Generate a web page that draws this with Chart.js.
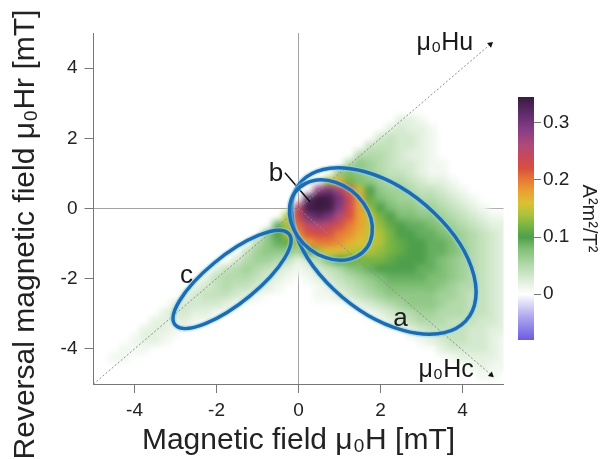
<!DOCTYPE html>
<html>
<head>
<meta charset="utf-8">
<script src="https://cdn.jsdelivr.net/npm/chart.js@4.4.0/dist/chart.umd.min.js"></script>
<style>
  html, body { margin: 0; padding: 0; background: #fff; }
  #wrap { position: relative; width: 601px; height: 459px; overflow: hidden; }
  #forc { position: absolute; left: 0; top: 0; }
  #cbar { position: absolute; left: 503px; top: 60px; }
</style>
</head>
<body>
<div id="wrap">
  <canvas id="forc" width="601" height="459"></canvas>
  <canvas id="cbar" width="98" height="320"></canvas>
</div>
<script>
// axis ticks (mT) and colour bar ticks (A^2 m^2 / T^2)
const hTicks = [-4, -2, 0, 2, 4];
const hrTicks = [-4, -2, 0, 2, 4];
const cbTicks = [0, 0.1, 0.2, 0.3];
const cbMin = -0.08, cbMax = 0.345;

// FORC grid: cell centres in mT
const cellStep = 0.25;
const hCells = [-4.5,-4.25,-4,-3.75,-3.5,-3.25,-3,-2.75,-2.5,-2.25,-2,-1.75,-1.5,-1.25,-1,-0.75,-0.5,-0.25,
                0,0.25,0.5,0.75,1,1.25,1.5,1.75,2,2.25,2.5,2.75,3,3.25,3.5,3.75,4,4.25,4.5,4.75,5];
const hrCells = [2.5,2.25,2,1.75,1.5,1.25,1,0.75,0.5,0.25,0,-0.25,-0.5,-0.75,-1,-1.25,-1.5,-1.75,-2,-2.25,
                 -2.5,-2.75,-3,-3.25,-3.5,-3.75,-4,-4.25,-4.5,-4.75];
// one row per hrCells entry, one value per hCells entry
const forc = [
  [0,0,0,0,0,0,0,0,0,0,0,0,0,0,0,0,0,0, 0,0,0,0,0,0,0,0,0,0,.02,.02,.01,0,0,0,0,0,0,0,0],
  [0,0,0,0,0,0,0,0,0,0,0,0,0,0,0,0,0,0, 0,0,0,0,0,0,0,0,0,.02,.03,.02,.02,.01,0,0,0,0,0,0,0],
  [0,0,0,0,0,0,0,0,0,0,0,0,0,0,0,0,0,0, 0,0,0,0,0,0,0,0,.03,.04,.03,.03,.02,.01,0,0,0,0,0,0,0],
  [0,0,0,0,0,0,0,0,0,0,0,0,0,0,0,0,0,0, 0,0,0,0,0,0,0,.04,.04,.04,.03,.03,.02,.01,0,0,0,0,0,0,0],
  [0,0,0,0,0,0,0,0,0,0,0,0,0,0,0,0,0,0, 0,0,0,0,0,0,.05,.05,.05,.04,.03,.02,.02,.01,0,0,0,0,0,0,0],
  [0,0,0,0,0,0,0,0,0,0,0,0,0,0,0,0,0,0, 0,0,0,0,0,.05,.07,.06,.05,.04,.03,.03,.02,.01,.01,0,0,0,0,0,0],
  [0,0,0,0,0,0,0,0,0,0,0,0,0,0,0,0,0,0, 0,0,0,0,.07,.08,.07,.06,.05,.04,.04,.03,.02,.01,.01,0,0,0,0,0,0],
  [0,0,0,0,0,0,0,0,0,0,0,0,0,0,0,0,0,0, 0,0,0,.14,.17,.12,.08,.07,.06,.05,.05,.04,.03,.02,.02,.01,0,0,0,0,0],
  [0,0,0,0,0,0,0,0,0,0,0,0,0,0,0,0,0,0, 0,0,.28,.3,.27,.21,.15,.1,.07,.06,.06,.05,.04,.04,.03,.02,.01,0,0,0,0],
  [0,0,0,0,0,0,0,0,0,0,0,0,0,0,0,0,0,0, 0,.32,.345,.34,.3,.24,.18,.11,.08,.07,.06,.06,.05,.05,.04,.03,.02,.01,0,0,0],
  [0,0,0,0,0,0,0,0,0,0,0,0,0,0,0,0,0,0, .25,.34,.345,.34,.29,.23,.18,.13,.1,.08,.07,.07,.06,.06,.05,.04,.03,.02,.01,0,0],
  [0,0,0,0,0,0,0,0,0,0,0,0,0,0,0,0,0,.14, .24,.3,.32,.3,.26,.22,.18,.15,.12,.1,.08,.08,.07,.07,.06,.05,.04,.03,.02,.01,.01],
  [0,0,0,0,0,0,0,0,0,0,0,0,0,0,0,0,.09,.14, .21,.25,.26,.25,.23,.2,.18,.15,.13,.11,.1,.09,.09,.08,.07,.06,.05,.04,.03,.02,.02],
  [0,0,0,0,0,0,0,0,0,0,0,0,0,0,0,.07,.1,.14, .19,.22,.23,.22,.2,.19,.17,.15,.14,.12,.1,.1,.09,.09,.08,.07,.06,.05,.04,.03,.02],
  [0,0,0,0,0,0,0,0,0,0,0,0,0,0,.05,.07,.09,.11, .14,.18,.2,.2,.19,.17,.16,.15,.14,.12,.11,.1,.1,.09,.09,.08,.06,.05,.04,.03,.02],
  [0,0,0,0,0,0,0,0,0,0,0,0,0,.04,.06,.07,.07,.07, .06,.1,.14,.16,.16,.15,.14,.14,.13,.12,.11,.1,.1,.09,.09,.08,.07,.05,.04,.03,.02],
  [0,0,0,0,0,0,0,0,0,0,0,0,.03,.05,.06,.06,.05,.04, .02,.03,.05,.08,.1,.11,.12,.12,.12,.11,.1,.1,.1,.09,.08,.07,.06,.05,.04,.03,.02],
  [0,0,0,0,0,0,0,0,0,0,.02,.04,.05,.06,.05,.04,.03,.02, .01,.02,.03,.04,.05,.07,.08,.09,.1,.1,.1,.1,.09,.09,.08,.07,.06,.05,.04,.03,.02],
  [0,0,0,0,0,0,0,0,0,.02,.04,.05,.05,.05,.04,.03,.02,.01, 0,.01,.02,.03,.04,.05,.06,.07,.08,.09,.09,.09,.09,.08,.08,.07,.06,.05,.04,.03,.02],
  [0,0,0,0,0,0,0,0,.02,.03,.04,.05,.04,.04,.03,.02,.01,0, 0,0,.01,.02,.03,.04,.05,.06,.07,.08,.08,.08,.08,.08,.07,.06,.05,.05,.04,.03,.02],
  [0,0,0,0,0,0,0,.02,.03,.04,.04,.04,.03,.02,.01,0,0,0, 0,0,.01,.01,.02,.03,.04,.05,.06,.07,.07,.07,.07,.07,.06,.06,.05,.04,.04,.03,.02],
  [0,0,0,0,0,0,.02,.03,.03,.03,.03,.02,.01,0,0,0,0,0, 0,0,0,0,0,.01,.02,.03,.04,.05,.06,.07,.07,.07,.06,.05,.05,.04,.04,.03,.02],
  [0,0,0,0,0,.02,.03,.03,.02,.02,.01,0,0,0,0,0,0,0, 0,0,0,0,0,0,0,.01,.02,.03,.04,.05,.06,.06,.05,.05,.05,.04,.04,.03,.02],
  [0,0,0,0,.02,.02,.02,.02,.01,0,0,0,0,0,0,0,0,0, 0,0,0,0,0,0,0,0,0,.02,.03,.04,.05,.05,.05,.04,.04,.04,.03,.03,.02],
  [0,0,0,.02,.02,.02,.01,0,0,0,0,0,0,0,0,0,0,0, 0,0,0,0,0,0,0,0,0,0,0,.02,.03,.04,.04,.04,.04,.03,.03,.02,.02],
  [0,0,.01,.02,.02,.01,0,0,0,0,0,0,0,0,0,0,0,0, 0,0,0,0,0,0,0,0,0,0,0,0,.01,.02,.03,.04,.04,.03,.03,.02,.01],
  [0,.01,.01,.01,0,0,0,0,0,0,0,0,0,0,0,0,0,0, 0,0,0,0,0,0,0,0,0,0,0,0,0,0,.02,.03,.03,.03,.03,.02,.01],
  [.01,.01,0,0,0,0,0,0,0,0,0,0,0,0,0,0,0,0, 0,0,0,0,0,0,0,0,0,0,0,0,0,0,0,.01,.02,.02,.02,.02,.01],
  [0,0,0,0,0,0,0,0,0,0,0,0,0,0,0,0,0,0, 0,0,0,0,0,0,0,0,0,0,0,0,0,0,0,0,0,.01,.02,.01,.01],
  [0,0,0,0,0,0,0,0,0,0,0,0,0,0,0,0,0,0, 0,0,0,0,0,0,0,0,0,0,0,0,0,0,0,0,0,0,.01,.01,0]
];

// colour map of the colour bar
const cmapValues = [-0.08, -0.04, 0, 0.02, 0.05, 0.08, 0.1, 0.12, 0.14, 0.16, 0.18, 0.2, 0.22, 0.24, 0.26, 0.29, 0.32, 0.345];
const cmapColors = ['#6b5be0','#aea6ee','#ffffff','#e4f1e0','#b4daac','#7fbf74','#4e9f4c','#78b444','#b0c23a',
                    '#dcc034','#eaa032','#e67a36','#d9503e','#c8485a','#b04a7a','#843c84','#5a2a66','#3a1a3e'];

// Hu and Hc axes, pointer line to peak
const huLineH = [-5, 4.68], huLineHr = [-5, 4.68];
const hcLineH = [0, 4.7], hcLineHr = [0, -4.74];
const pointerH = [-0.33, 0.28], pointerHr = [1.02, 0.19];

// marked regions (mT, angle in degrees in the H/Hr plane)
const regionNames = ['a', 'b', 'c'];
const regionH = [2.08, 0.79, -1.62];
const regionHr = [-1.21, -0.33, -2.02];
const regionMajor = [2.83, 1.21, 1.90];
const regionMinor = [1.64, 0.93, 0.64];
const regionAngle = [-48, -59, 44];
const labelH = [2.49, -0.55, -2.73];
const labelHr = [-3.13, 0.98, -1.91];

const xTitle = 'Magnetic field \u03bc\u2080H [mT]';
const yTitle = 'Reversal magnetic field \u03bc\u2080Hr [mT]';
const cbTitle = 'A\u00b2m\u00b2/T\u00b2';

Chart.defaults.font.family = '"Liberation Sans", Arial, sans-serif';
Chart.defaults.color = '#222';

function hexRgb(h) {
  return [parseInt(h.slice(1, 3), 16), parseInt(h.slice(3, 5), 16), parseInt(h.slice(5, 7), 16)];
}

function colorFor(v) {
  if (v <= cmapValues[0]) return cmapColors[0];
  for (let i = 1; i < cmapValues.length; i++) {
    if (v <= cmapValues[i]) {
      const t = (v - cmapValues[i - 1]) / (cmapValues[i] - cmapValues[i - 1]);
      const a = hexRgb(cmapColors[i - 1]), b = hexRgb(cmapColors[i]);
      return 'rgb(' + a.map((c, k) => Math.round(c + (b[k] - c) * t)).join(',') + ')';
    }
  }
  return cmapColors[cmapColors.length - 1];
}

function toPoints(xs, ys) {
  return xs.map((x, i) => ({x: x, y: ys[i]}));
}

const cells = [];
hrCells.forEach((hr, r) => {
  hCells.forEach((h, c) => {
    const v = forc[r][c];
    if (v > 0) cells.push({x: h, y: hr, v: v});
  });
});

function arrowRotation(ctx) {
  const d = ctx.dataset.data, s = ctx.chart.scales;
  const n = d.length - 1;
  const dx = s.x.getPixelForValue(d[n].x) - s.x.getPixelForValue(d[n - 1].x);
  const dy = s.y.getPixelForValue(d[n].y) - s.y.getPixelForValue(d[n - 1].y);
  return Math.atan2(dy, dx) * 180 / Math.PI + 90;
}

// the heat map cells are drawn into a spare canvas, then laid down softened
const heatIndex = 3;
let heatCanvas = null;
const smooth = {
  id: 'smooth',
  beforeDatasetDraw(chart, args) {
    if (args.index !== heatIndex) return;
    heatCanvas = document.createElement('canvas');
    heatCanvas.width = chart.canvas.width;
    heatCanvas.height = chart.canvas.height;
    args.meta.controller._ctx = heatCanvas.getContext('2d');
  },
  afterDatasetDraw(chart, args) {
    if (args.index !== heatIndex) return;
    args.meta.controller._ctx = chart.ctx;
    const ctx = chart.ctx, a = chart.chartArea;
    ctx.save();
    ctx.beginPath();
    ctx.rect(a.left, a.top, a.right - a.left, a.bottom - a.top);
    ctx.clip();
    ctx.filter = 'blur(3px)';
    ctx.drawImage(heatCanvas, 0, 0);
    ctx.restore();
  }
};

const overlay = {
  id: 'overlay',
  afterDraw(chart) {
    const {ctx, chartArea} = chart;
    const x = chart.scales.x, y = chart.scales.y;
    ctx.save();
    regionNames.forEach((name, i) => {
      const a = regionAngle[i] * Math.PI / 180;
      const cx = x.getPixelForValue(regionH[i]), cy = y.getPixelForValue(regionHr[i]);
      const ux = x.getPixelForValue(regionH[i] + regionMajor[i] * Math.cos(a)) - cx;
      const uy = y.getPixelForValue(regionHr[i] + regionMajor[i] * Math.sin(a)) - cy;
      const vx = x.getPixelForValue(regionH[i] - regionMinor[i] * Math.sin(a)) - cx;
      const vy = y.getPixelForValue(regionHr[i] + regionMinor[i] * Math.cos(a)) - cy;
      ctx.beginPath();
      ctx.save();
      ctx.transform(ux, uy, vx, vy, cx, cy);
      ctx.arc(0, 0, 1, 0, 2 * Math.PI);
      ctx.restore();
      ctx.strokeStyle = 'rgba(140,210,245,0.45)';
      ctx.lineWidth = 6.5;
      ctx.stroke();
      ctx.strokeStyle = '#1f6bb0';
      ctx.lineWidth = 3.5;
      ctx.stroke();
    });
    ctx.fillStyle = '#1a1a1a';
    ctx.textAlign = 'center';
    ctx.textBaseline = 'middle';
    ctx.font = '26px "Liberation Sans", Arial, sans-serif';
    regionNames.forEach((name, i) => {
      ctx.fillText(name, x.getPixelForValue(labelH[i]), y.getPixelForValue(labelHr[i]));
    });
    ctx.font = '25px "Liberation Sans", Arial, sans-serif';
    ctx.fillText('\u03bc\u2080Hu', x.getPixelForValue(3.57), y.getPixelForValue(4.72));
    ctx.fillText('\u03bc\u2080Hc', x.getPixelForValue(3.6), y.getPixelForValue(-4.6));
    // y title drawn here so it is not squeezed to the plot height
    ctx.translate(chartArea.left - 68, (chartArea.top + chartArea.bottom) / 2 + 26);
    ctx.rotate(-Math.PI / 2);
    ctx.font = '30px "Liberation Sans", Arial, sans-serif';
    ctx.fillStyle = '#222';
    ctx.fillText(yTitle, 0, 0);
    ctx.restore();
  }
};

function zeroGrid(c) {
  return c.tick && c.tick.value === 0 ? '#a3a3a3' : 'rgba(0,0,0,0)';
}

new Chart(document.getElementById('forc'), {
  type: 'scatter',
  data: {
    datasets: [
      {
        type: 'line', label: 'pointer', data: toPoints(pointerH, pointerHr),
        borderColor: '#111', borderWidth: 1.5, pointRadius: 0, order: 0
      },
      {
        type: 'line', label: 'Hu', data: toPoints(huLineH, huLineHr),
        borderColor: '#8c8c8c', borderWidth: 1, borderDash: [2, 2],
        pointRadius: [0, 3.5], pointStyle: 'triangle', pointRotation: arrowRotation,
        pointBackgroundColor: '#111', pointBorderWidth: 0, order: 1, clip: false
      },
      {
        type: 'line', label: 'Hc', data: toPoints(hcLineH, hcLineHr),
        borderColor: '#8c8c8c', borderWidth: 1, borderDash: [2, 2],
        pointRadius: [0, 3.5], pointStyle: 'triangle', pointRotation: arrowRotation,
        pointBackgroundColor: '#111', pointBorderWidth: 0, order: 1, clip: false
      },
      {
        label: 'FORC', data: cells, order: 5, clip: 0,
        pointStyle: 'rect',
        pointRadius: function(ctx) {
          const s = ctx.chart.scales.x;
          return (s.getPixelForValue(cellStep) - s.getPixelForValue(0)) * 0.76;
        },
        pointBackgroundColor: ctx => colorFor(ctx.raw.v),
        pointBorderWidth: 0
      }
    ]
  },
  options: {
    responsive: false,
    animation: false,
    events: [],
    layout: {padding: {left: 0, top: 33, right: 97.5, bottom: 0}},
    plugins: {legend: {display: false}, tooltip: {enabled: false}},
    scales: {
      x: {
        type: 'linear', min: -5, max: 5, z: 1,
        afterBuildTicks: s => { s.ticks = hTicks.map(v => ({value: v})); },
        afterFit: s => { s.height = 75; },
        grid: {color: zeroGrid, tickColor: '#777', tickLength: 9},
        border: {display: true, color: '#777'},
        ticks: {font: {size: 19}, padding: 6, maxRotation: 0},
        title: {display: true, text: xTitle, font: {size: 30}, padding: {top: 0, bottom: 0}}
      },
      y: {
        type: 'linear', min: -5, max: 5, z: 1,
        afterBuildTicks: s => { s.ticks = hrTicks.map(v => ({value: v})); },
        afterFit: s => { s.width = 93.5; },
        grid: {color: zeroGrid, tickColor: '#777', tickLength: 9},
        border: {display: true, color: '#777'},
        ticks: {font: {size: 19}, padding: 7}
      }
    }
  },
  plugins: [smooth, overlay]
});

// colour bar
const cbFill = {
  id: 'cbFill',
  beforeDatasetsDraw(chart) {
    const {ctx, chartArea: a} = chart;
    const y = chart.scales.y;
    const g = ctx.createLinearGradient(0, y.getPixelForValue(cbMin), 0, y.getPixelForValue(cbMax));
    cmapValues.forEach((v, i) => g.addColorStop((v - cbMin) / (cbMax - cbMin), cmapColors[i]));
    ctx.fillStyle = g;
    ctx.fillRect(a.left, a.top, a.right - a.left, a.bottom - a.top);
  }
};

new Chart(document.getElementById('cbar'), {
  type: 'scatter',
  data: {datasets: []},
  options: {
    responsive: false,
    animation: false,
    events: [],
    layout: {padding: {left: 15, top: 37, right: 0, bottom: 40}},
    plugins: {legend: {display: false}, tooltip: {enabled: false}},
    scales: {
      x: {display: false, min: 0, max: 1},
      y: {
        position: 'right', min: cbMin, max: cbMax,
        afterBuildTicks: s => { s.ticks = cbTicks.map(v => ({value: v})); },
        afterFit: s => { s.width = 67; },
        grid: {drawOnChartArea: false, tickColor: '#777', tickLength: 7},
        border: {display: false},
        ticks: {font: {size: 19}, padding: 2},
        title: {display: true, text: cbTitle, font: {size: 20}, padding: {top: 0, bottom: 0}}
      }
    }
  },
  plugins: [cbFill]
});
</script>
</body>
</html>
